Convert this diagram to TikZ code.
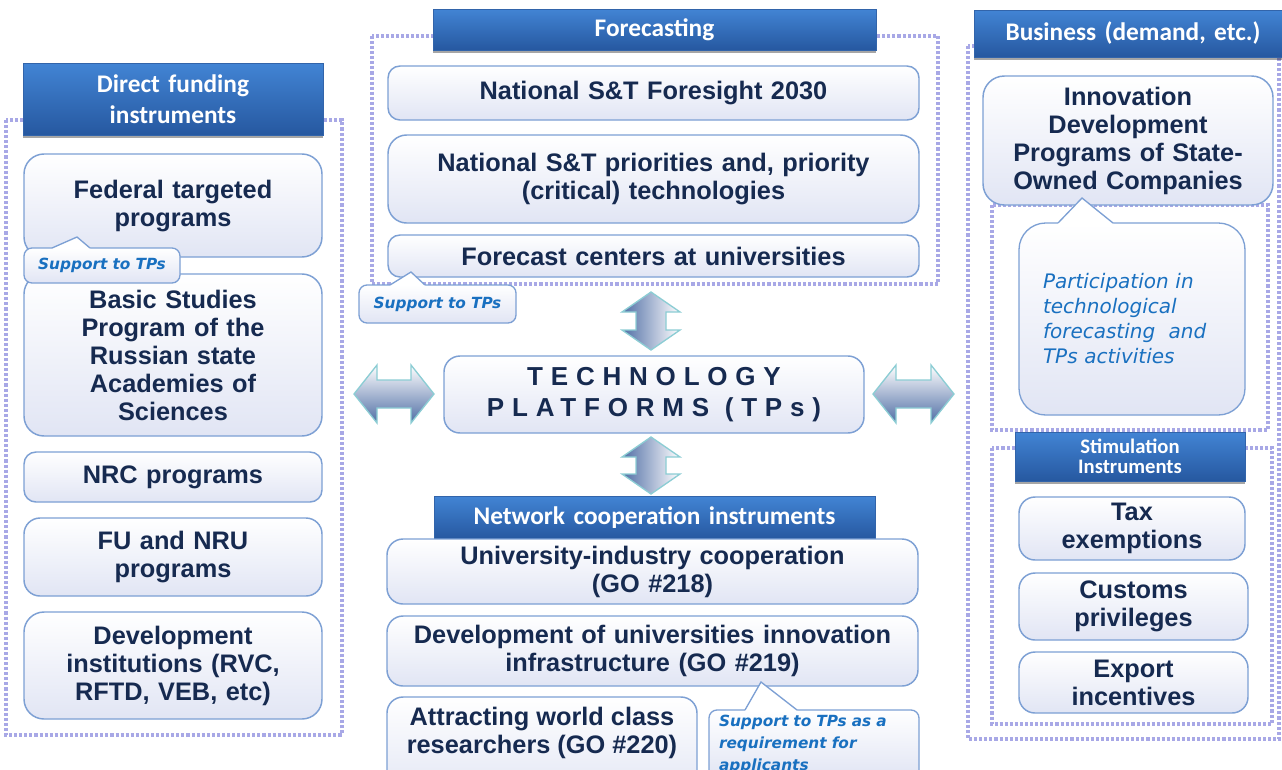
\documentclass[tikz,border=0pt]{standalone}
\usepackage{fontspec}
\setmainfont{Liberation Sans}
\newfontfamily\hdfont{Carlito}
\newfontfamily\cofont{DejaVu Sans}
\newfontfamily\tpfont{Liberation Sans}[LetterSpace=30]
\usetikzlibrary{shadows}
\definecolor{navy}{RGB}{22,42,80}
\definecolor{bxb}{RGB}{125,160,212}
\definecolor{bxf}{RGB}{225,229,244}
\definecolor{hdt}{RGB}{66,132,212}
\definecolor{hdb}{RGB}{38,88,160}
\definecolor{hdrb}{RGB}{50,100,170}
\definecolor{dotc}{RGB}{168,168,230}
\definecolor{cot}{RGB}{25,112,192}
\definecolor{arb}{RGB}{140,205,212}
\definecolor{arl}{RGB}{80,110,165}
\tikzset{
 dotframe/.style={draw=dotc, line width=2.3pt, dash pattern=on 2.3pt off 1.5pt},
 hdr/.style={draw=hdrb, line width=0.6pt, top color=hdt, bottom color=hdb, text=white,
   font=\hdfont\bfseries\fontsize{19}{23}\selectfont,
   drop shadow={shadow xshift=0pt, shadow yshift=-2.5pt, opacity=0.35, fill=black}},
 box/.style={draw=bxb, line width=1.1pt, rounded corners=9pt, top color=white, bottom color=bxf,
   text=navy, font=\bfseries\fontsize{19}{21}\selectfont},
 boxtext/.style={text=navy, font=\bfseries\fontsize{19}{21}\selectfont, align=center, inner sep=0pt},
 callout/.style={draw=bxb, line width=1pt, rounded corners=6pt, top color=white, bottom color=bxf,
   text=cot, font=\cofont\bfseries\itshape\fontsize{11.5}{16.5}\selectfont},
 blockarrow/.style={draw=arb, line width=1pt}
}
\newcommand\bx[7][]{%
  \pgfmathsetmacro\bw{(#5-#3)*0.75}%
  \pgfmathsetmacro\bh{(#6-#4)*0.75}%
  \pgfmathsetmacro\tw{\bw-8}%
  \node[minimum width=\bw pt, minimum height=\bh pt, inner sep=0pt, text width=\tw pt, align=center, #1] (#2) at ({(#3+#5)/2},{(#4+#6)/2}) {#7};}
\newcommand\ptr[5]{%
  \fill[white] (#1,#2) -- (#3,#4) -- (#5,#2) -- (#5,#2+1.6) -- (#1,#2+1.6) -- cycle;
  \draw[bxb, line width=1pt] (#1,#2) -- (#3,#4) -- (#5,#2);}
\begin{document}
\begin{tikzpicture}[x=0.75pt,y=-0.75pt]
\useasboundingbox (0,0) rectangle (1282,769);
\clip (0,0) rectangle (1282,769);
\fill[white] (0,0) rectangle (1282,769);
% dotted frames
\draw[dotframe] (6,120) rectangle (342,735);
\draw[dotframe] (372,36) rectangle (938,284);
\draw[dotframe] (968,46) rectangle (1279,739);
\draw[dotframe] (992,205) rectangle (1268,430);
\draw[dotframe] (992,448) rectangle (1272,724);
% headers
\bx[hdr]{hfund}{23}{63}{323}{135}{Direct funding\\instruments}
\bx[hdr]{hfore}{433}{9}{876}{50}{Forecasting}
\bx[hdr]{hbus}{974}{10}{1292}{57}{Business (demand, etc.)}
\bx[hdr]{hnet}{434}{496}{875}{539}{Network cooperation instruments}
\bx[hdr, font=\hdfont\bfseries\fontsize{15.5}{15}\selectfont]{hstim}{1015}{432}{1245}{481}{Stimulation\\Instruments}
% left column
\bx[box, rounded corners=15pt]{fed}{24}{154}{322}{257}{Federal targeted\\programs}
\bx[box, rounded corners=15pt]{basic}{24}{274}{322}{436}{Basic Studies\\Program of the\\Russian state\\Academies of\\Sciences}
\bx[callout]{sup1}{24}{248}{180}{283}{Support to TPs}
\ptr{52}{248}{77}{237}{90}
\bx[box]{nrc}{24}{452}{322}{502}{NRC programs}
\bx[box, rounded corners=12pt]{fu}{24}{518}{322}{596}{FU and NRU\\programs}
\bx[box, rounded corners=15pt]{devi}{24}{612}{322}{719}{Development\\institutions (RVC,\\RFTD, VEB, etc)}
% forecasting column
\bx[box]{fs}{388}{66}{919}{120}{National S\&T Foresight 2030}
\bx[box, rounded corners=14pt]{prio}{388}{135}{919}{223}{National S\&T priorities and, priority\\(critical) technologies}
\bx[box]{fc}{388}{235}{919}{277}{Forecast centers at universities}
\bx[callout]{sup2}{359}{285}{516}{323}{Support to TPs}
\ptr{390}{285}{411}{272}{425}
% technology platforms
\bx[box, rounded corners=12pt, font=\tpfont\bfseries\fontsize{19.5}{23.25}\selectfont]{tp}{444}{356}{864}{433}{TECHNOLOGY\\PLATFORMS\kern0.6em(TPs)}
\path[blockarrow, left color=arl, right color=white] (651,292) -- (680,312) -- (666,312) -- (666,330) -- (680,330) -- (651,350) -- (622,330) -- (636,330) -- (636,312) -- (622,312) -- cycle;
\path[blockarrow, left color=arl, right color=white] (651,437) -- (680,457) -- (666,457) -- (666,474) -- (680,474) -- (651,494) -- (622,474) -- (636,474) -- (636,457) -- (622,457) -- cycle;
\path[blockarrow, top color=white, bottom color=arl] (354,394) -- (377,365) -- (377,380) -- (411,380) -- (411,365) -- (434,394) -- (411,423) -- (411,408) -- (377,408) -- (377,423) -- cycle;
\path[blockarrow, top color=white, bottom color=arl] (873,394) -- (896,365) -- (896,380) -- (931,380) -- (931,365) -- (954,394) -- (931,423) -- (931,408) -- (896,408) -- (896,423) -- cycle;
% network column
\bx[box, rounded corners=12pt]{uni}{387}{539}{918}{604}{University-industry cooperation\\(GO \#218)}
\bx[box, rounded corners=12pt]{devu}{387}{616}{918}{686}{Development of universities innovation\\infrastructure (GO \#219)}
\bx[box, rounded corners=12pt]{attr}{387}{697}{697}{800}{}
\node[boxtext] (attrT) at (542,733) {Attracting world class\\researchers (GO \#220)};
\bx[callout, text width=142.5pt, align=left, font=\cofont\bfseries\itshape\fontsize{11.5}{16.5}\selectfont]{sup3}{709}{710}{919}{778}{Support to TPs as a\\requirement for\\applicants}
\ptr{745}{710}{761}{682}{797}
% business column
\bx[box, rounded corners=16pt]{idp}{983}{76}{1273}{205}{Innovation\\Development\\Programs of State-\\Owned Companies}
\bx[callout, rounded corners=20pt, text width=133.5pt, align=left, font=\cofont\itshape\fontsize{15}{18.75}\selectfont]{part}{1019}{223}{1245}{415}{Participation in\\technological\\forecasting~~and\\TPs activities}
\ptr{1058}{223}{1082}{198}{1113}
\bx[box, rounded corners=12pt]{tax}{1019}{497}{1245}{560}{Tax\\exemptions}
\bx[box, rounded corners=12pt]{cus}{1019}{573}{1248}{640}{Customs\\privileges}
\bx[box, rounded corners=12pt]{exp}{1019}{652}{1248}{713}{Export\\incentives}
\end{tikzpicture}
\end{document}
